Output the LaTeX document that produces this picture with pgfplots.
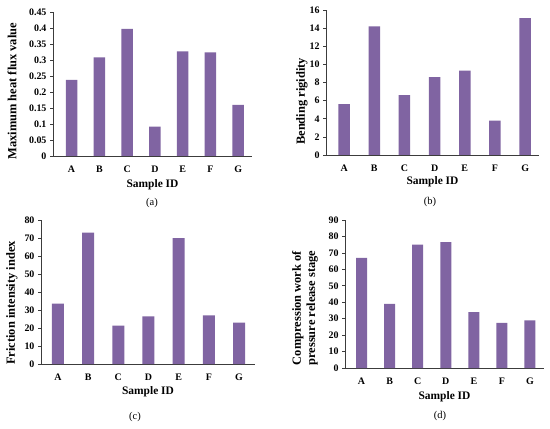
\documentclass[border=0pt]{standalone}
\usepackage{pgfplots}
\pgfplotsset{compat=1.18}
\usepackage{fontspec}
\setmainfont{Liberation Serif}
\definecolor{barpurple}{RGB}{128,100,162}
\definecolor{axgray}{RGB}{60,60,60}
\pgfplotsset{
  panel/.style={
    scale only axis,
    anchor=south west,
    ybar, bar width=12bp,
    ymin=0,
    axis x line*=bottom, axis y line*=left,
    axis line style={axgray, line width=0.8bp},
    xtick={1,...,7},
    xticklabels={A,B,C,D,E,F,G},
    major x tick style={draw=none},
    ytick align=outside, major tick length=3bp,
    major y tick style={axgray, line width=0.6bp},
    tick label style={font=\fontsize{10}{11}\selectfont\bfseries},
    xlabel style={font=\fontsize{11.5}{12}\selectfont\bfseries},
    ylabel style={font=\fontsize{12.5}{14.5}\selectfont\bfseries},
    /pgf/number format/assume math mode=true,
    yticklabel style={/pgf/number format/fixed, /pgf/number format/precision=2},
    xticklabel style={yshift=-3bp},
    xlabel style={at={(axis description cs:0.5,0)}, anchor=center},
  },
}
\begin{document}
\begin{tikzpicture}[x=1bp,y=1bp]
\path[use as bounding box] (0,0) rectangle (550,428);
% (a)
\begin{axis}[panel, at={(53bp,272bp)}, width=199bp, height=144bp,
  xmin=0.33, xmax=7.5, ymax=0.45, ytick={0,0.05,...,0.451},
  bar width=11.5bp,
  xlabel={Sample ID}, xlabel style={yshift=-29bp},
  ylabel={Maximum heat flux value},
  ylabel style={at={(axis description cs:-0.206,0.45)}, anchor=center}]
\addplot[fill=barpurple, draw=none] coordinates {(1,0.238) (2,0.308) (3,0.397) (4,0.092) (5,0.327) (6,0.324) (7,0.160)};
\end{axis}
\node[font=\fontsize{10.5}{12}\selectfont] at (152,225) {(a)};
% (b)
\begin{axis}[panel, at={(326bp,273bp)}, width=213bp, height=145bp,
  xmin=0.40, xmax=7.46, ymax=16, ytick={0,2,...,16},
  bar width=11.5bp,
  xlabel={Sample ID}, xlabel style={yshift=-27bp},
  ylabel={Bending rigidity},
  ylabel style={at={(axis description cs:-0.113,0.37)}, anchor=center}]
\addplot[fill=barpurple, draw=none] coordinates {(1,5.6) (2,14.2) (3,6.6) (4,8.6) (5,9.3) (6,3.8) (7,15.1)};
\end{axis}
\node[font=\fontsize{10.5}{12}\selectfont] at (430,226) {(b)};
% (c)
\begin{axis}[panel, at={(41bp,64bp)}, width=214bp, height=144bp,
  xmin=0.44, xmax=7.53, ymax=80, ytick={0,10,...,80},
  xlabel={Sample ID}, xlabel style={yshift=-28bp},
  ylabel={Friction intensity index},
  ylabel style={at={(axis description cs:-0.1355,0.424)}, anchor=center}]
\addplot[fill=barpurple, draw=none] coordinates {(1,33.5) (2,73) (3,21.3) (4,26.5) (5,70) (6,27) (7,23)};
\end{axis}
\node[font=\fontsize{10.5}{12}\selectfont] at (135,11) {(c)};
% (d)
\begin{axis}[panel, at={(345bp,60bp)}, width=199bp, height=148bp,
  xmin=0.41, xmax=7.5, ymax=90, ytick={0,10,...,90},
  bar width=11bp,
  xlabel={Sample ID}, xlabel style={yshift=-29bp},
  ylabel={Compression work of\\pressure release stage},
  ylabel style={at={(axis description cs:-0.201,0.405)}, anchor=center, align=center}]
\addplot[fill=barpurple, draw=none] coordinates {(1,67) (2,39) (3,75) (4,76.5) (5,34) (6,27.5) (7,29)};
\end{axis}
\node[font=\fontsize{10.5}{12}\selectfont] at (440,12) {(d)};
\end{tikzpicture}
\end{document}
